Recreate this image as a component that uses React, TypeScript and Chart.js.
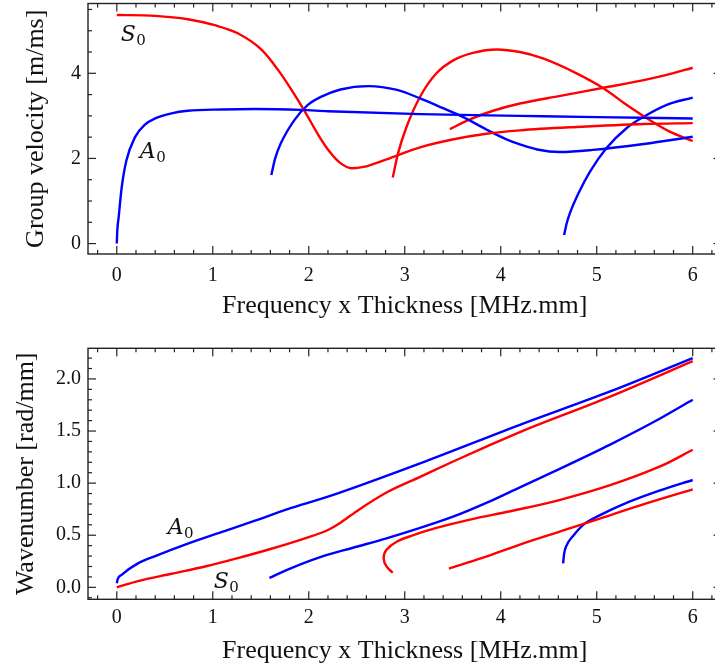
import React, { useEffect, useRef } from 'react';
import { Chart, registerables } from 'chart.js';

Chart.register(...registerables);

const FONT = '"Liberation Serif", "Times New Roman", serif';
const MATH = '"DejaVu Serif", serif';
const TEXT = '#111111';
const RED = '#ff0000';
const BLUE = '#0000ff';

type P = [number, number];

// ---- tick values ----
const xTicks = [0, 1, 2, 3, 4, 5, 6];
const gvTicks = [0, 2, 4];
const wnTicks = [0, 0.5, 1, 1.5, 2];

// ---- Group velocity [m/ms] vs frequency x thickness ----
const gvA0: P[] = [[0, 0], [0.005, 0.3], [0.02, 0.63], [0.05, 1.3], [0.1, 1.95], [0.19, 2.5], [0.29, 2.79], [0.4, 2.94], [0.57, 3.06], [0.74, 3.12], [1.09, 3.15], [1.44, 3.16], [1.92, 3.14], [2.2, 3.11], [3.16, 3.04], [4.2, 3.0], [5.0, 2.97], [6.0, 2.94]];
const gvS0: P[] = [[0, 5.37], [0.4, 5.35], [0.74, 5.27], [1.02, 5.13], [1.26, 4.94], [1.51, 4.55], [1.68, 4.08], [1.82, 3.61], [1.96, 3.1], [2.1, 2.55], [2.22, 2.15], [2.33, 1.89], [2.45, 1.77], [2.57, 1.8], [2.81, 1.98], [3.16, 2.26], [3.51, 2.45], [3.85, 2.58], [4.2, 2.66], [4.79, 2.74], [5.49, 2.81], [6.0, 2.83]];
const gvA1: P[] = [[1.61, 1.61], [1.65, 2.0], [1.71, 2.36], [1.85, 2.9], [1.99, 3.26], [2.12, 3.44], [2.33, 3.62], [2.62, 3.7], [2.92, 3.61], [3.16, 3.41], [3.4, 3.18], [3.61, 2.97], [3.85, 2.68], [4.06, 2.45], [4.2, 2.33], [4.38, 2.21], [4.62, 2.15], [4.96, 2.2], [5.49, 2.34], [6.0, 2.51]];
const gvS1: P[] = [[2.875, 1.55], [2.93, 2.12], [3.02, 2.75], [3.16, 3.45], [3.33, 4.0], [3.51, 4.31], [3.71, 4.48], [3.96, 4.56], [4.2, 4.5], [4.44, 4.35], [4.79, 4.0], [5.07, 3.65], [5.31, 3.26], [5.56, 2.89], [5.76, 2.63], [6.0, 2.41]];
const gvS2: P[] = [[3.47, 2.69], [3.68, 2.92], [3.92, 3.12], [4.2, 3.29], [4.62, 3.47], [5.07, 3.66], [5.49, 3.84], [5.76, 3.98], [6.0, 4.13]];
const gvA2: P[] = [[4.66, 0.2], [4.69, 0.5], [4.72, 0.71], [4.81, 1.18], [4.93, 1.69], [5.1, 2.24], [5.31, 2.71], [5.49, 2.98], [5.73, 3.26], [6.0, 3.43]];

// ---- Wavenumber [rad/mm] vs frequency x thickness ----
const wnA0: P[] = [[0, 0.04], [0.01, 0.08], [0.05, 0.12], [0.22, 0.23], [0.4, 0.3], [0.74, 0.42], [1.09, 0.53], [1.44, 0.64], [1.78, 0.75], [2.2, 0.87], [3.16, 1.19], [4.2, 1.56], [5.14, 1.88], [6.0, 2.2]];
const wnS0: P[] = [[0, 0], [0.22, 0.06], [0.57, 0.13], [0.92, 0.2], [1.26, 0.28], [1.61, 0.37], [1.96, 0.47], [2.2, 0.55], [2.33, 0.62], [2.53, 0.75], [2.81, 0.91], [3.16, 1.06], [3.51, 1.21], [3.85, 1.35], [4.2, 1.49], [5.14, 1.83], [6.0, 2.17]];
const wnA1: P[] = [[1.59, 0.09], [1.78, 0.17], [2.12, 0.29], [2.46, 0.38], [2.81, 0.47], [3.16, 0.57], [3.51, 0.68], [3.85, 0.81], [4.2, 0.96], [4.62, 1.14], [5.14, 1.37], [5.66, 1.62], [6.0, 1.8]];
const wnS1: P[] = [[2.875, 0.14], [2.81, 0.2], [2.78, 0.28], [2.81, 0.36], [2.92, 0.44], [3.09, 0.5], [3.33, 0.57], [3.68, 0.65], [4.1, 0.73], [4.62, 0.84], [5.14, 0.98], [5.66, 1.16], [6.0, 1.32]];
const wnS2: P[] = [[3.46, 0.18], [3.8, 0.28], [4.2, 0.41], [4.6, 0.53], [5.0, 0.65], [5.5, 0.8], [6.0, 0.94]];
const wnA2: P[] = [[4.65, 0.23], [4.66, 0.32], [4.68, 0.39], [4.76, 0.5], [4.86, 0.6], [5.03, 0.69], [5.31, 0.81], [5.66, 0.93], [6.0, 1.03]];

// ---- mode labels (text, subscript, data position) ----
const gvLabels = [
  { main: 'S', sub: '0', x: 0.04, y: 4.77 },
  { main: 'A', sub: '0', x: 0.24, y: 2.0 },
];
const wnLabels = [
  { main: 'A', sub: '0', x: 0.53, y: 0.51 },
  { main: 'S', sub: '0', x: 1.01, y: -0.01 },
];

function ds(label: string, pts: P[], color: string, monotone = true) {
  return {
    label,
    data: pts.map(([x, y]) => ({ x, y })),
    borderColor: color,
    backgroundColor: color,
    borderWidth: 2.4,
    pointRadius: 0,
    pointHoverRadius: 0,
    fill: false,
    cubicInterpolationMode: monotone ? 'monotone' : 'default',
    tension: monotone ? 0 : 0.4,
  };
}

const framePlugin = {
  id: 'frame',
  afterDatasetsDraw(chart: any, _args: any, o: any) {
    const { ctx, chartArea } = chart;
    const { left, right, top, bottom } = chartArea;
    const xs = chart.scales.x;
    const ys = chart.scales.y;
    ctx.save();
    ctx.strokeStyle = '#222';
    ctx.lineWidth = 1.2;
    const line = (x1: number, y1: number, x2: number, y2: number) => {
      ctx.beginPath();
      ctx.moveTo(x1, y1);
      ctx.lineTo(x2, y2);
      ctx.stroke();
    };
    const steps = (min: number, max: number, step: number) => {
      const out: number[] = [];
      for (let i = Math.ceil(min / step - 1e-9); i * step <= max + 1e-9; i++) out.push(i * step);
      return out;
    };
    const MAJ = 8, MIN = 4;
    for (const v of steps(xs.min, xs.max, o.xMinor)) {
      const isMaj = Math.abs(v - Math.round(v / o.xMajor) * o.xMajor) < 1e-6;
      const len = isMaj ? MAJ : MIN;
      const p = xs.getPixelForValue(v);
      line(p, bottom, p, bottom - len);
      line(p, top, p, top + len);
    }
    for (const v of steps(ys.min, ys.max, o.yMinor)) {
      const isMaj = Math.abs(v - Math.round(v / o.yMajor) * o.yMajor) < 1e-6;
      const len = isMaj ? MAJ : MIN;
      const p = ys.getPixelForValue(v);
      line(left, p, left + len, p);
      line(right, p, right - len, p);
    }
    ctx.lineWidth = 1.4;
    ctx.strokeRect(left, top, right - left, bottom - top);

    ctx.fillStyle = TEXT;
    ctx.textAlign = 'left';
    ctx.textBaseline = 'alphabetic';
    for (const a of o.labels) {
      const px = xs.getPixelForValue(a.x);
      const py = ys.getPixelForValue(a.y);
      ctx.font = `italic 22px ${MATH}`;
      ctx.fillText(a.main, px, py);
      const w = ctx.measureText(a.main).width;
      ctx.font = `15px ${MATH}`;
      ctx.fillText(a.sub, px + w + 0.5, py + 4);
    }
    ctx.restore();
  },
};

function makeConfig(opts: {
  datasets: any[];
  yMin: number; yMax: number; yTicks: number[]; yDigits: number;
  yTitle: string; yTitlePad: number;
  padTop: number; xHeight: number; xTickPad: number; xTitlePad: number;
  yMajor: number; yMinor: number; labels: any[];
}) {
  return {
    type: 'line',
    data: { datasets: opts.datasets },
    plugins: [framePlugin],
    options: {
      animation: false,
      responsive: false,
      maintainAspectRatio: false,
      devicePixelRatio: 1,
      events: [],
      layout: { padding: { top: opts.padTop, right: 3.5, left: 0, bottom: 0 } },
      plugins: {
        legend: { display: false },
        tooltip: { enabled: false },
        frame: { xMinor: 0.2, xMajor: 1, yMinor: opts.yMinor, yMajor: opts.yMajor, labels: opts.labels },
      },
      scales: {
        x: {
          type: 'linear',
          min: -0.3,
          max: 6.3,
          afterBuildTicks: (s: any) => { s.ticks = xTicks.map((v) => ({ value: v })); },
          afterFit: (s: any) => { s.height = opts.xHeight; s.paddingLeft = 0; s.paddingRight = 0; },
          grid: { display: false, drawTicks: false },
          border: { display: false },
          ticks: {
            font: { family: FONT, size: 20 },
            color: TEXT,
            padding: opts.xTickPad,
            maxRotation: 0,
            autoSkip: false,
            callback: (v: any) => String(v),
          },
          title: {
            display: true,
            text: 'Frequency x Thickness [MHz.mm]',
            font: { family: FONT, size: 26 },
            color: TEXT,
            padding: { top: 0, bottom: opts.xTitlePad },
          },
        },
        y: {
          type: 'linear',
          min: opts.yMin,
          max: opts.yMax,
          afterBuildTicks: (s: any) => { s.ticks = opts.yTicks.map((v) => ({ value: v })); },
          afterFit: (s: any) => { s.width = 88; s.paddingTop = 0; s.paddingBottom = 0; },
          grid: { display: false, drawTicks: false },
          border: { display: false },
          ticks: {
            font: { family: FONT, size: 20 },
            color: TEXT,
            padding: 7,
            autoSkip: false,
            callback: (v: any) => Number(v).toFixed(opts.yDigits),
          },
          title: {
            display: true,
            text: opts.yTitle,
            font: { family: FONT, size: 26 },
            color: TEXT,
            padding: { top: opts.yTitlePad, bottom: 0 },
          },
        },
      },
    },
  };
}

function ChartCanvas({ top, height, build }: { top: number; height: number; build: () => any }) {
  const ref = useRef<HTMLCanvasElement>(null);
  useEffect(() => {
    const chart = new Chart(ref.current as HTMLCanvasElement, build());
    return () => chart.destroy();
  }, []);
  return (
    <canvas
      ref={ref}
      width={725}
      height={height}
      style={{ position: 'absolute', left: 0, top, width: 725, height, display: 'block' }}
    />
  );
}

export default function App() {
  useEffect(() => {
    document.body.style.margin = '0';
    document.body.style.overflow = 'hidden';
  }, []);

  const buildTop = () =>
    makeConfig({
      datasets: [
        ds('A0', gvA0, BLUE),
        ds('S0', gvS0, RED),
        ds('A1', gvA1, BLUE),
        ds('S1', gvS1, RED),
        ds('S2', gvS2, RED),
        ds('A2', gvA2, BLUE),
      ],
      yMin: -0.245, yMax: 5.64, yTicks: gvTicks, yDigits: 0,
      yTitle: 'Group velocity [m/ms]', yTitlePad: 21,
      padTop: 3.5, xHeight: 76, xTickPad: 10, xTitlePad: 8,
      yMajor: 2, yMinor: 0.5, labels: gvLabels,
    });

  const buildBottom = () =>
    makeConfig({
      datasets: [
        ds('A0', wnA0, BLUE),
        ds('S0', wnS0, RED),
        ds('A1', wnA1, BLUE),
        ds('S1', wnS1, RED, false),
        ds('S2', wnS2, RED),
        ds('A2', wnA2, BLUE),
      ],
      yMin: -0.115, yMax: 2.294, yTicks: wnTicks, yDigits: 1,
      yTitle: 'Wavenumber [rad/mm]', yTitlePad: 11,
      padTop: 18.3, xHeight: 70.7, xTickPad: 6, xTitlePad: 3,
      yMajor: 0.5, yMinor: 0.1, labels: wnLabels,
    });

  return (
    <div style={{ position: 'absolute', left: 0, top: 0, width: 715, height: 670, overflow: 'hidden', background: '#fff' }}>
      <ChartCanvas top={0} height={330} build={buildTop} />
      <ChartCanvas top={330} height={340} build={buildBottom} />
    </div>
  );
}
